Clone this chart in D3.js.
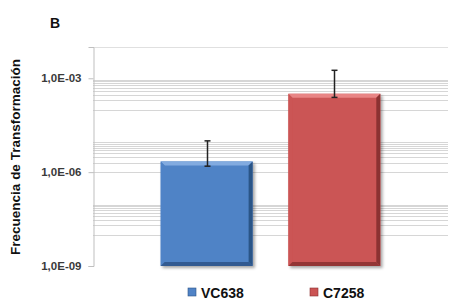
<!DOCTYPE html>
<html>
<head>
<meta charset="utf-8">
<script src="https://cdn.jsdelivr.net/npm/d3@7"></script>
<style>
  body { margin: 0; background: #fff; }
  svg { display: block; font-family: 'Liberation Sans', Arial, sans-serif; }
</style>
</head>
<body>
<svg id="chart"></svg>
<script>
// chart values
const categories = ['VC638', 'C7258']
const values = [2.2e-6, 3.2e-4]
const errLow = [1.55e-6, 2.45e-4]
const errHigh = [1.0e-5, 1.8e-3]
const tickValues = [1e-9, 1e-6, 1e-3]
const tickLabels = ['1,0E-09', '1,0E-06', '1,0E-03']
const gridDecades = [-8, -6, -4]
const colors = ['#5083c6', '#cb5454']
const lightColors = ['#82abe0', '#e88585']
const darkColors = ['#2c5487', '#8a3131']

const W = 464, H = 306
const m = { left: 93, right: 16, top: 47, bottom: 40 }

const svg = d3.select('#chart').attr('width', W).attr('height', H)

const defs = svg.append('defs')
defs.append('filter').attr('id', 'shadow')
  .attr('x', '-10%').attr('y', '-10%').attr('width', '130%').attr('height', '130%')
  .append('feDropShadow')
  .attr('dx', 2).attr('dy', 2).attr('stdDeviation', 1.5)
  .attr('flood-color', '#000').attr('flood-opacity', 0.35)

// scales
const x = d3.scaleBand()
  .domain(categories)
  .range([m.left, W - m.right])
  .paddingInner(0.28)
  .paddingOuter(0.53)

const y = d3.scaleLog()
  .domain([1e-9, 1e-2])
  .range([H - m.bottom, m.top])

// minor gridlines
const gridVals = []
gridDecades.forEach(d => {
  for (let k = 1; k <= 9; k++) gridVals.push(k * Math.pow(10, d))
})
svg.append('g')
  .selectAll('line')
  .data(gridVals)
  .enter().append('line')
  .attr('x1', m.left).attr('x2', W - m.right)
  .attr('y1', d => Math.round(y(d)) + 0.5)
  .attr('y2', d => Math.round(y(d)) + 0.5)
  .attr('stroke', '#d6d6d6')
  .attr('stroke-width', 1)

// top border of plot area
svg.append('line')
  .attr('x1', m.left).attr('x2', W - m.right)
  .attr('y1', m.top + 0.5).attr('y2', m.top + 0.5)
  .attr('stroke', '#e0e0e0')

// y axis
const yAxis = d3.axisLeft(y)
  .tickValues(tickValues)
  .tickFormat((d, i) => tickLabels[i])
  .tickSize(5)
  .tickPadding(7)
const gy = svg.append('g')
  .attr('transform', `translate(${m.left + 0.5},0)`)
  .call(yAxis)
gy.select('.domain').attr('stroke', '#bfbfbf')
gy.selectAll('.tick line').attr('stroke', '#bfbfbf')
gy.selectAll('.tick text')
  .attr('fill', '#3a3a3a')
  .attr('font-size', 11.5)
  .attr('font-weight', 'bold')
  .attr('font-family', "'Liberation Sans', Arial, sans-serif")

// bars
const bev = 4
const bars = svg.append('g')
  .selectAll('g')
  .data(categories)
  .enter().append('g')
  .attr('filter', 'url(#shadow)')

bars.each(function (c, i) {
  const g = d3.select(this)
  const x0 = x(c), x1 = x(c) + x.bandwidth()
  const y0 = y(values[i]), y1 = y(1e-9)
  g.append('rect')
    .attr('x', x0).attr('y', y0)
    .attr('width', x1 - x0).attr('height', y1 - y0)
    .attr('fill', colors[i])
  // top bevel
  g.append('polygon')
    .attr('points', [[x0, y0], [x1, y0], [x1 - bev, y0 + bev], [x0 + bev, y0 + bev]].join(' '))
    .attr('fill', lightColors[i])
  // left bevel
  g.append('polygon')
    .attr('points', [[x0, y0], [x0 + bev, y0 + bev], [x0 + bev, y1 - bev], [x0, y1]].join(' '))
    .attr('fill', colors[i]).attr('opacity', 0.9)
  // right bevel
  g.append('polygon')
    .attr('points', [[x1, y0], [x1, y1], [x1 - bev, y1 - bev], [x1 - bev, y0 + bev]].join(' '))
    .attr('fill', darkColors[i])
  // bottom bevel
  g.append('polygon')
    .attr('points', [[x0, y1], [x1, y1], [x1 - bev, y1 - bev], [x0 + bev, y1 - bev]].join(' '))
    .attr('fill', darkColors[i]).attr('opacity', 0.85)
})

// error bars
const eb = svg.append('g')
categories.forEach((c, i) => {
  const cx = Math.round(x(c) + x.bandwidth() / 2) + 0.5
  eb.append('line')
    .attr('x1', cx).attr('x2', cx)
    .attr('y1', y(errHigh[i])).attr('y2', y(errLow[i]))
    .attr('stroke', '#222').attr('stroke-width', 1.5)
  ;[errHigh[i], errLow[i]].forEach(v => {
    eb.append('line')
      .attr('x1', cx - 3).attr('x2', cx + 3)
      .attr('y1', y(v)).attr('y2', y(v))
      .attr('stroke', '#222').attr('stroke-width', 1.5)
  })
})

// y axis title
svg.append('text')
  .attr('transform', 'translate(20,157) rotate(-90)')
  .attr('text-anchor', 'middle')
  .attr('font-size', 13.5)
  .attr('font-weight', 'bold')
  .attr('fill', '#111')
  .text('Frecuencia de Transformación')

// panel letter
svg.append('text')
  .attr('x', 50).attr('y', 28)
  .attr('font-size', 14)
  .attr('font-weight', 'bold')
  .attr('fill', '#111')
  .text('B')

// legend
const legX = [188, 310]
const leg = svg.append('g')
categories.forEach((c, i) => {
  leg.append('rect')
    .attr('x', legX[i]).attr('y', 288)
    .attr('width', 8).attr('height', 8)
    .attr('fill', colors[i])
    .attr('stroke', darkColors[i]).attr('stroke-width', 0.6)
  leg.append('text')
    .attr('x', legX[i] + 13).attr('y', 298)
    .attr('font-size', 14)
    .attr('font-weight', 'bold')
    .attr('fill', '#111')
    .text(c)
})
</script>
</body>
</html>
